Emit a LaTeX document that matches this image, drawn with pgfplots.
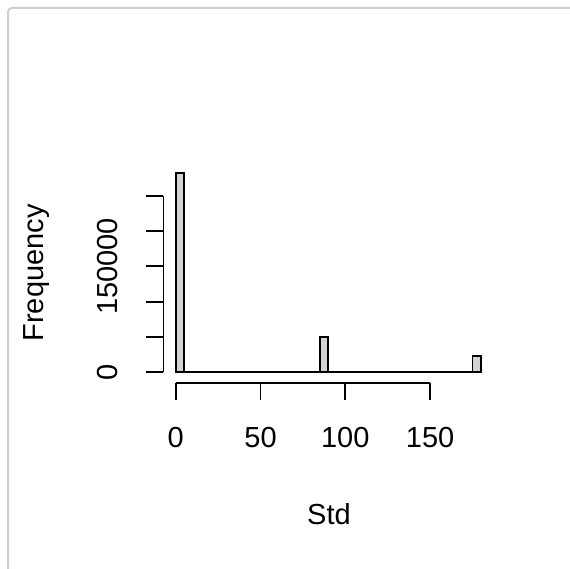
\documentclass[border=0pt]{standalone}
\usepackage{fontspec}
\setmainfont{Liberation Sans}
\usepackage{pgfplots}
\pgfplotsset{compat=1.18}
\definecolor{rgrey}{HTML}{D3D3D3}
\definecolor{framegrey}{HTML}{CFCFCF}
\begin{document}
\begin{tikzpicture}[x=1pt,y=1pt]
\useasboundingbox (0,0) rectangle (570,569);
\fill[white] (0,0) rectangle (570,569);
\draw[framegrey, line width=2pt, rounded corners=4pt] (8,-2) -- (8,561) -- (572,561);
\begin{axis}[
  at={(163.5pt,185.7pt)}, anchor=south west, scale only axis,
  width=329.7pt, height=223.3pt,
  xmin=-7.2, xmax=187.2, ymin=-15570, ymax=300500,
  clip=false,
  axis line style={draw=none},
  xtick pos=bottom, ytick pos=left,
  xtick={0,50,100,150}, ytick={0,50000,100000,150000,200000,250000},
  yticklabels={0,,,150000,,},
  scaled y ticks=false,
  tick align=outside, major tick length=17pt,
  tick style={draw=none},
  /pgf/number format/assume math mode=true,
  tick label style={font=\fontsize{29}{34}\selectfont},
  label style={font=\fontsize{29}{34}\selectfont},
  xticklabel style={anchor=center, yshift=-37pt},
  yticklabel style={anchor=center, xshift=-39pt, rotate=90},
  xlabel={Std}, ylabel={Frequency},
  xlabel style={at={(axis description cs:0.502,-0.585)}, anchor=center},
  ylabel style={at={(axis description cs:-0.384,0.494)}, anchor=center, rotate=0},
]
\addplot[ybar interval, fill=rgrey, draw=black, line width=1.9pt] coordinates {
(0,282000) (5,0) (10,0) (15,0) (20,0) (25,0) (30,0) (35,0) (40,0) (45,0)
(50,0) (55,0) (60,0) (65,0) (70,0) (75,0) (80,0) (85,49500) (90,0) (95,0)
(100,0) (105,0) (110,0) (115,0) (120,0) (125,0) (130,0) (135,0) (140,0) (145,0)
(150,0) (155,0) (160,0) (165,0) (170,0) (175,23500) (180,0)
};
\draw[line width=1.9pt] (axis cs:0,-15570) -- (axis cs:150,-15570);
\draw[line width=1.9pt] (axis cs:-7.2,0) -- (axis cs:-7.2,250000);
\draw[line width=1.9pt] (axis cs:0,-15570) -- ([yshift=-17pt]axis cs:0,-15570);
\draw[line width=1.9pt] (axis cs:50,-15570) -- ([yshift=-17pt]axis cs:50,-15570);
\draw[line width=1.9pt] (axis cs:100,-15570) -- ([yshift=-17pt]axis cs:100,-15570);
\draw[line width=1.9pt] (axis cs:150,-15570) -- ([yshift=-17pt]axis cs:150,-15570);
\draw[line width=1.9pt] (axis cs:-7.2,0) -- ([xshift=-17pt]axis cs:-7.2,0);
\draw[line width=1.9pt] (axis cs:-7.2,50000) -- ([xshift=-17pt]axis cs:-7.2,50000);
\draw[line width=1.9pt] (axis cs:-7.2,100000) -- ([xshift=-17pt]axis cs:-7.2,100000);
\draw[line width=1.9pt] (axis cs:-7.2,150000) -- ([xshift=-17pt]axis cs:-7.2,150000);
\draw[line width=1.9pt] (axis cs:-7.2,200000) -- ([xshift=-17pt]axis cs:-7.2,200000);
\draw[line width=1.9pt] (axis cs:-7.2,250000) -- ([xshift=-17pt]axis cs:-7.2,250000);
\end{axis}
\end{tikzpicture}
\end{document}
